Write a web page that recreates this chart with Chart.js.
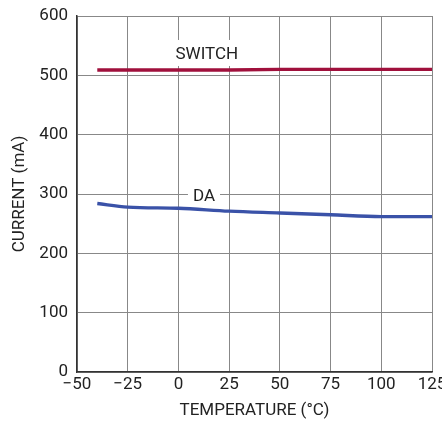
<!DOCTYPE html>
<html>
<head>
<meta charset="utf-8">
<script src="https://cdn.jsdelivr.net/npm/chart.js@4"></script>
<style>
  html, body { margin: 0; padding: 0; background: #fff; }
  #chart { display: block; }
</style>
</head>
<body>
<canvas id="chart" width="442" height="421"></canvas>
<script>
// data
const temps = [-40, -25, 0, 25, 50, 75, 100, 125];
const switchCurrent = [509, 509, 509, 509, 510, 510, 510, 510];
const daCurrent = [284, 278, 276, 271, 268, 265, 262, 262];
const xTickLabels = { '-50': '\u221250', '-25': '\u221225', '0': '0', '25': '25', '50': '50', '75': '75', '100': '100', '125': '125' };

const FONT = "Roboto, 'Liberation Sans', sans-serif";
const TEXT = '#222';

// curve labels, white box hides the grid behind them
const curveLabels = {
  id: 'curveLabels',
  afterDraw(chart) {
    const { ctx, scales: { x, y } } = chart;
    const items = [
      { text: 'SWITCH', t: 14, v: 536, up: 14, down: 12 },
      { text: 'DA', t: 12.6, v: 297, up: 10, down: 10 }
    ];
    ctx.save();
    ctx.font = '17px ' + FONT;
    ctx.textAlign = 'center';
    ctx.textBaseline = 'middle';
    items.forEach(it => {
      const px = x.getPixelForValue(it.t);
      const py = y.getPixelForValue(it.v);
      const w = ctx.measureText(it.text).width + 10;
      ctx.fillStyle = '#fff';
      ctx.fillRect(px - w / 2, py - it.up, w, it.up + it.down);
      ctx.fillStyle = TEXT;
      ctx.fillText(it.text, px, py + 1);
    });
    ctx.restore();
  }
};

const ctx = document.getElementById('chart').getContext('2d');
new Chart(ctx, {
  type: 'line',
  data: {
    datasets: [
      {
        label: 'SWITCH',
        data: temps.map((t, i) => ({ x: t, y: switchCurrent[i] })),
        borderColor: '#a0103c',
        borderWidth: 3.3,
        pointRadius: 0,
        tension: 0
      },
      {
        label: 'DA',
        data: temps.map((t, i) => ({ x: t, y: daCurrent[i] })),
        borderColor: '#3a52a8',
        borderWidth: 3.3,
        pointRadius: 0,
        cubicInterpolationMode: 'monotone'
      }
    ]
  },
  options: {
    responsive: false,
    animation: false,
    layout: { padding: { top: 16, right: 10, left: 0, bottom: 0 } },
    plugins: {
      legend: { display: false },
      tooltip: { enabled: false }
    },
    scales: {
      x: {
        type: 'linear',
        min: -50,
        max: 125,
        z: 1,
        afterFit(scale) {
          scale.height = 49;
          scale.paddingLeft = 0;
          scale.paddingRight = 0;
        },
        ticks: {
          stepSize: 25,
          padding: 3,
          color: TEXT,
          font: { family: FONT, size: 17 },
          maxRotation: 0,
          autoSkip: false,
          callback: v => xTickLabels[v] ?? v
        },
        grid: { color: '#888', lineWidth: 1, drawTicks: false },
        border: { color: '#333', width: 1.5 },
        title: {
          display: true,
          text: 'TEMPERATURE (\u00b0C)',
          color: TEXT,
          font: { family: FONT, size: 17 },
          padding: { top: 4, bottom: 0 }
        }
      },
      y: {
        min: 0,
        max: 600,
        z: 1,
        afterFit(scale) {
          scale.width = 77;
          scale.paddingTop = 0;
          scale.paddingBottom = 0;
        },
        ticks: {
          stepSize: 100,
          padding: 9,
          color: TEXT,
          font: { family: FONT, size: 17 }
        },
        grid: { color: '#888', lineWidth: 1, drawTicks: false },
        border: { color: '#333', width: 1.5 },
        title: {
          display: true,
          text: 'CURRENT (mA)',
          color: TEXT,
          font: { family: FONT, size: 17 },
          padding: { top: 10, bottom: 4 }
        }
      }
    }
  },
  plugins: [curveLabels]
});
</script>
</body>
</html>
